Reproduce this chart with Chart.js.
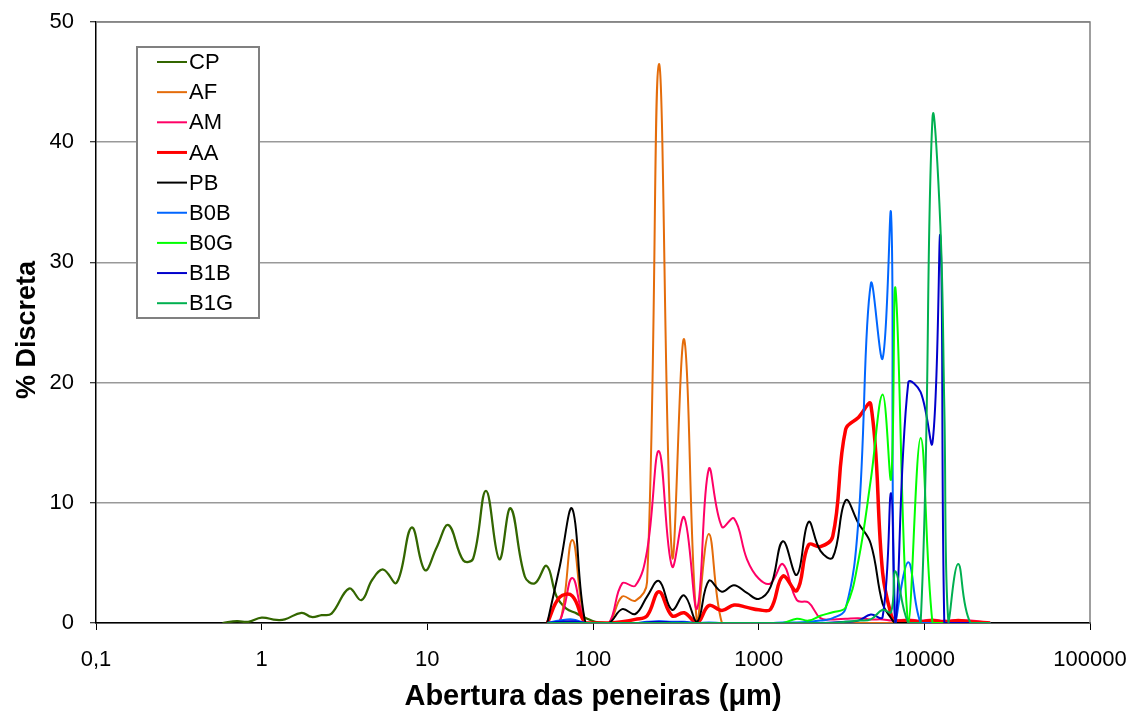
<!DOCTYPE html>
<html>
<head>
<meta charset="utf-8">
<script src="https://cdn.jsdelivr.net/npm/chart.js@4.4.0/dist/chart.umd.min.js"></script>
<style>
html, body { margin: 0; padding: 0; background: #fff; }
canvas { display: block; }
</style>
</head>
<body>
<canvas id="mychart" width="1139" height="715"></canvas>
<script>
// CP: laser sizes (um) and % values
var cpSizes = [0.58, 0.71, 0.83, 1.0, 1.23, 1.38, 1.74, 2.0, 2.3, 2.64, 3.37, 4.0, 4.65, 5.42, 6.53, 8.04, 9.67, 11.4, 13.4, 16.5, 18.9, 22.6, 27.2, 31.8, 38.8, 44.6, 52.5, 60.3, 69, 79.5, 91, 103, 120];
var cpValues = [0, 0.15, 0.1, 0.45, 0.25, 0.3, 0.85, 0.5, 0.65, 0.78, 2.86, 1.9, 3.6, 4.45, 3.35, 7.95, 4.4, 6.3, 8.15, 5.2, 5.35, 11.0, 5.3, 9.55, 3.85, 3.3, 4.75, 2.2, 1.2, 0.8, 0.4, 0.1, 0];

// sieve openings (um)
var sieves = [53, 63, 75, 90, 106, 125, 150, 180, 212, 250, 300, 355, 425, 500, 600, 710, 850, 1000, 1180, 1400, 1700, 2000, 2360, 2800, 3350, 4000, 4750, 5600, 6300, 6700, 8000, 9500, 11200, 12500, 13200, 14000, 16000, 19000, 25000];

var afValues  = [0, 0, 6.9, 0, 0, 0, 2.2, 1.85, 3.4, 46.5, 5.6, 23.6, 0, 7.4, 0, 0, 0, 0, 0, 0, 0, 0, 0, 0, 0, 0, 0, 0, 0, 0, 0, 0, 0, 0, 0, 0, 0, 0, 0];
var amValues  = [0, 0.2, 3.75, 0, 0, 0, 3.3, 3.1, 6.0, 14.3, 4.7, 8.8, 1.2, 12.8, 8.0, 8.7, 5.3, 3.7, 3.3, 4.9, 1.9, 1.7, 0.4, 0.3, 0.35, 0.4, 0.3, 0.3, 0.2, 0.2, 0.3, 0.2, 0.3, 0.2, 0.2, 0.2, 0.25, 0.2, 0];
var aaValues  = [0, 2.15, 2.25, 0, 0, 0, 0.1, 0.3, 0.6, 2.6, 0.6, 0.85, 0, 1.45, 1.05, 1.5, 1.3, 1.1, 1.15, 3.9, 2.7, 6.5, 6.35, 7.2, 16.1, 17.1, 18.2, 4.2, 0.7, 0.2, 0.2, 0.1, 0.2, 0.1, 0.1, 0.1, 0.2, 0.1, 0];
var pbValues  = [0, 4.7, 9.5, 0, 0, 0, 1.15, 0.75, 2.2, 3.5, 1.1, 2.3, 0.1, 3.5, 2.6, 3.15, 2.5, 2.0, 3.0, 6.8, 4.0, 8.4, 6.0, 5.45, 10.2, 8.3, 6.6, 1.6, 0.4, 0, 0, 0, 0, 0, 0, 0, 0, 0, 0];
var b0bValues = [0, 0.2, 0.3, 0, 0, 0, 0, 0, 0.1, 0.15, 0.1, 0.1, 0, 0.05, 0, 0, 0, 0, 0, 0.05, 0.05, 0.1, 0.2, 0.4, 1.2, 8.5, 28.2, 22.0, 34.0, 0, 5.05, 0, 0, 0, 0, 0, 0, 0, 0];
var b0gValues = [0, 0, 0, 0, 0, 0, 0, 0, 0, 0, 0, 0, 0, 0, 0, 0, 0, 0, 0, 0, 0.36, 0.2, 0.6, 0.9, 1.3, 5.2, 11.9, 19.0, 12.0, 27.8, 0, 15.4, 0, 0, 0, 0, 0, 0, 0];
var b1bValues = [0, 0.1, 0.15, 0, 0, 0, 0, 0, 0.05, 0.1, 0.05, 0.05, 0, 0, 0, 0, 0, 0, 0, 0, 0, 0, 0, 0.05, 0.1, 0.2, 0.7, 0.5, 10.8, 0, 20.0, 19.2, 15.0, 32.1, 0, 0, 0, 0, 0];
var b1gValues = [0, 0, 0, 0, 0, 0, 0, 0, 0, 0, 0, 0, 0, 0, 0, 0, 0, 0, 0, 0, 0, 0, 0, 0, 0.1, 0.2, 0.3, 1.1, 0.9, 4.3, 0, 0, 42.0, 33.0, 18.0, 0, 4.9, 0, 0];

var xTicks = [0.1, 1, 10, 100, 1000, 10000, 100000];
var yTicks = [0, 10, 20, 30, 40, 50];

var fontName = '"Liberation Sans", Arial, sans-serif';

function pts(xs, ys) {
    return xs.map(function(x, i) { return { x: x, y: ys[i] }; });
}

var series = [
    { label: 'CP',  data: pts(cpSizes, cpValues), color: '#336600', width: 2.25 },
    { label: 'AF',  data: pts(sieves, afValues),  color: '#E46C0A', width: 2 },
    { label: 'AM',  data: pts(sieves, amValues),  color: '#FF0066', width: 2 },
    { label: 'AA',  data: pts(sieves, aaValues),  color: '#FF0000', width: 3.5 },
    { label: 'PB',  data: pts(sieves, pbValues),  color: '#000000', width: 2 },
    { label: 'B0B', data: pts(sieves, b0bValues), color: '#0066FF', width: 2 },
    { label: 'B0G', data: pts(sieves, b0gValues), color: '#00FF00', width: 2 },
    { label: 'B1B', data: pts(sieves, b1bValues), color: '#0000CC', width: 2 },
    { label: 'B1G', data: pts(sieves, b1gValues), color: '#00B050', width: 2 }
];

var datasets = series.map(function(s, i) {
    return {
        label: s.label,
        data: s.data,
        borderColor: s.color,
        backgroundColor: s.color,
        borderWidth: s.width,
        pointRadius: 0,
        showLine: true,
        fill: false,
        tension: 0.4,
        order: series.length - i
    };
});

// frame on top/right + legend box inside the plot
var framePlugin = {
    id: 'frame',
    afterDraw: function(chart) {
        var ctx = chart.ctx, a = chart.chartArea;
        ctx.save();
        ctx.strokeStyle = '#808080';
        ctx.lineWidth = 1.5;
        ctx.beginPath();
        ctx.moveTo(a.left, a.top);
        ctx.lineTo(a.right, a.top);
        ctx.lineTo(a.right, a.bottom);
        ctx.stroke();

        var bx = 137, by = 47, bw = 122, bh = 271;
        ctx.fillStyle = '#fff';
        ctx.fillRect(bx, by, bw, bh);
        ctx.strokeStyle = '#808080';
        ctx.lineWidth = 2;
        ctx.strokeRect(bx, by, bw, bh);

        ctx.font = '22px ' + fontName;
        ctx.textBaseline = 'middle';
        ctx.textAlign = 'left';
        chart.data.datasets.forEach(function(ds, i) {
            var y = 62 + i * 30.15;
            ctx.strokeStyle = ds.borderColor;
            ctx.lineWidth = ds.label == 'AA' ? 3 : 2;
            ctx.beginPath();
            ctx.moveTo(157, y);
            ctx.lineTo(187, y);
            ctx.stroke();
            ctx.fillStyle = '#000';
            ctx.fillText(ds.label, 189, y + 1);
        });
        ctx.restore();
    }
};

var myChart = new Chart(document.getElementById('mychart'), {
    type: 'scatter',
    data: { datasets: datasets },
    options: {
        responsive: false,
        animation: false,
        events: [],
        layout: { padding: { left: 0, right: 49, top: 22, bottom: 0 } },
        plugins: {
            legend: { display: false },
            tooltip: { enabled: false }
        },
        scales: {
            x: {
                type: 'logarithmic',
                position: 'bottom',
                min: 0.1,
                max: 100000,
                afterBuildTicks: function(scale) {
                    scale.ticks = xTicks.map(function(v) { return { value: v }; });
                },
                afterFit: function(scale) {
                    scale.height = 92;
                    scale.paddingLeft = 0;
                    scale.paddingRight = 0;
                },
                ticks: {
                    autoSkip: false,
                    maxRotation: 0,
                    color: '#000',
                    padding: 17,
                    font: { family: fontName, size: 22 },
                    callback: function(v) { return String(v).replace('.', ','); }
                },
                grid: { drawOnChartArea: false, tickLength: 7, tickColor: '#000', tickWidth: 1 },
                border: { color: '#000', width: 1.5 },
                title: {
                    display: true,
                    text: 'Abertura das peneiras (μm)',
                    color: '#000',
                    font: { family: fontName, size: 29, weight: 'bold' },
                    padding: { top: 1, bottom: 1 }
                }
            },
            y: {
                min: 0,
                max: 50,
                afterBuildTicks: function(scale) {
                    scale.ticks = yTicks.map(function(v) { return { value: v }; });
                },
                afterFit: function(scale) {
                    scale.width = 96;
                    scale.paddingTop = 0;
                    scale.paddingBottom = 0;
                },
                ticks: {
                    color: '#000',
                    padding: 16,
                    font: { family: fontName, size: 22 }
                },
                grid: { color: '#999999', lineWidth: 1.5, tickLength: 6, tickColor: '#000', tickWidth: 1 },
                border: { color: '#000', width: 1.5 },
                title: {
                    display: true,
                    text: '% Discreta  ',
                    color: '#000',
                    font: { family: fontName, size: 27, weight: 'bold' },
                    padding: { top: 11, bottom: 0 }
                }
            }
        }
    },
    plugins: [framePlugin]
});
</script>
</body>
</html>
